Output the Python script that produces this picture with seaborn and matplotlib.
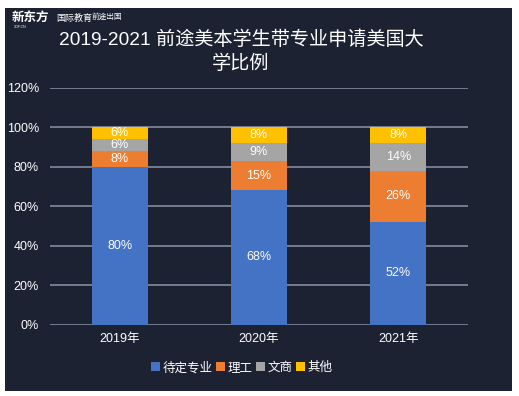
import matplotlib
matplotlib.use("Agg")
import matplotlib.pyplot as plt
import seaborn as sns
import numpy as np
import pandas as pd
from matplotlib.patches import Rectangle, Patch

years = ["2019年", "2020年", "2021年"]
series_names = ["待定专业", "理工", "文商", "其他"]
pending = [80, 68, 52]
science = [8, 15, 26]
business = [6, 9, 14]
other = [6, 8, 8]
colors = ["#4472C4", "#ED7D31", "#A5A5A5", "#FFC000"]
yticks = [0, 20, 40, 60, 80, 100, 120]
title = "2019-2021 前途美本学生带专业申请美国大\n学比例"

sns.set_theme(style="dark")
plt.rcParams["font.family"] = ["Liberation Sans", "Noto Sans CJK SC", "DejaVu Sans"]

BG = "#1C2232"
fig = plt.figure(figsize=(5.19, 3.96), dpi=100)
fig.patch.set_facecolor("white")
fig.patches.append(Rectangle((5/519, 5/396), 507/519, 383/396, transform=fig.transFigure,
                             facecolor=BG, edgecolor="none", zorder=-10))

ax = fig.add_axes([50/519, 71.5/396, 418/519, 236.5/396])
ax.set_facecolor(BG)
ax.patch.set_alpha(0)

vals = np.array([pending, science, business, other], dtype=float)
cum = np.cumsum(vals, axis=0)
df = pd.DataFrame({"year": years})
# draw from top layer down so lower layers cover
for i in range(3, -1, -1):
    df["v"] = cum[i]
    sns.barplot(data=df, x="year", y="v", color=colors[i], width=0.4,
                saturation=1, ax=ax, zorder=3, edgecolor="none")

for i in range(4):
    for j in range(3):
        mid = cum[i][j] - vals[i][j] / 2
        ax.text(j, mid, f"{int(vals[i][j])}%", ha="center", va="center",
                color="white", fontsize=9, zorder=5)

ax.set_ylim(0, 120)
ax.set_xlim(-0.5, 2.5)
ax.set_yticks(yticks)
ax.set_yticklabels([f"{t}%" for t in yticks], color="white", fontsize=9)
ax.tick_params(axis="x", colors="white", labelsize=9, length=0, pad=6)
ax.tick_params(axis="y", length=0, pad=8)
for lab in ax.get_xticklabels():
    lab.set_color("white")
ax.set_xlabel("")
ax.set_ylabel("")
for s in ax.spines.values():
    s.set_visible(False)
ax.grid(False)
for t in yticks:
    ax.axhline(t, color="#8C95A8", lw=1.1, zorder=1)

fig.text(241/519, 1 - 52/396, title, ha="center", va="center", color="white",
         fontsize=13.8, linespacing=1.4)

handles = [Patch(facecolor=c, edgecolor="none") for c in colors]
fig.legend(handles, series_names, loc="center", bbox_to_anchor=(242/519, 1 - 368/396),
           ncol=4, frameon=False, fontsize=9, labelcolor="white",
           handlelength=0.7, handleheight=0.7, handletextpad=0.25, columnspacing=0.25)

# logo
fig.text(12/519, 1 - 18/396, "新东方", color="white", fontsize=9, fontweight="bold",
         fontstyle="italic", ha="left", va="center")
fig.text(14/519, 1 - 27/396, "XDF.CN", color="white", fontsize=2.5, ha="left", va="center")
fig.text(56/519, 1 - 18/396, "国际教育", color="white", fontsize=6.5, ha="left", va="center")
fig.text(92/519, 1 - 17/396, "前途出国", color="white", fontsize=5.5,
         ha="left", va="center")

fig.savefig("out.png", dpi=100, facecolor=fig.get_facecolor())
